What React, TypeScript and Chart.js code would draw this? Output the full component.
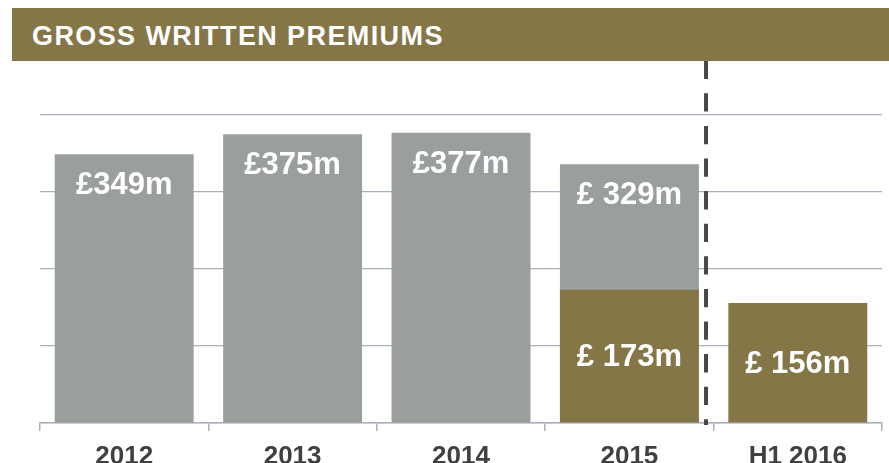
import React, { useEffect, useRef } from "react";
import { Chart, registerables } from "chart.js";

Chart.register(...registerables);

const categories = ["2012", "2013", "2014", "2015", "H1 2016"];
const fullYearValues = [349, 375, 377, 336, null];
const halfYearValues = [null, null, null, 173, 156];
const fullYearLabels = ["£349m", "£375m", "£377m", "£ 329m", ""];
const halfYearLabels = ["", "", "", "£ 173m", "£ 156m"];
const yMax = 400;
const yStep = 100;
const title = "GROSS WRITTEN PREMIUMS";

const GRAY = "#9a9f9c";
const OLIVE = "#857648";
const GRID = "#a9b0bc";
const FONT = "'Liberation Sans', Arial, sans-serif";

const labelPlugin = {
  id: "barLabels",
  afterDatasetsDraw(chart: any) {
    const ctx = chart.ctx;
    ctx.save();
    ctx.fillStyle = "#ffffff";
    ctx.font = `bold 31px ${FONT}`;
    ctx.textAlign = "center";
    ctx.textBaseline = "alphabetic";
    chart.data.datasets.forEach((ds: any, di: number) => {
      const meta = chart.getDatasetMeta(di);
      meta.data.forEach((el: any, i: number) => {
        const v = ds.data[i];
        if (v === null || v === undefined) return;
        const text = ds.labelTexts[i];
        if (!text) return;
        const y = ds.labelMode === "top" ? el.y + 40 : (el.y + el.base) / 2 + 10;
        ctx.fillText(text, el.x, y);
      });
    });
    ctx.restore();
  },
};

const dividerPlugin = {
  id: "divider",
  afterDraw(chart: any) {
    const x3 = chart.scales.x.getPixelForValue(3);
    const x4 = chart.scales.x.getPixelForValue(4);
    const x = x3 + (x4 - x3) * 0.455;
    const ctx = chart.ctx;
    ctx.save();
    ctx.strokeStyle = "#484848";
    ctx.lineWidth = 4;
    ctx.setLineDash([18.3, 14.3]);
    ctx.beginPath();
    ctx.moveTo(x, 60.7);
    ctx.lineTo(x, chart.chartArea.bottom + 2);
    ctx.stroke();
    ctx.restore();
  },
};

export default function App() {
  const canvasRef = useRef<HTMLCanvasElement | null>(null);

  useEffect(() => {
    if (!canvasRef.current) return;
    const chart = new Chart(canvasRef.current, {
      type: "bar",
      data: {
        labels: categories,
        datasets: [
          {
            label: "H1",
            data: halfYearValues,
            backgroundColor: OLIVE,
            grouped: false,
            order: 0,
            barPercentage: 0.825,
            categoryPercentage: 1,
            labelTexts: halfYearLabels,
            labelMode: "center",
          } as any,
          {
            label: "Full year",
            data: fullYearValues,
            backgroundColor: GRAY,
            grouped: false,
            order: 1,
            barPercentage: 0.825,
            categoryPercentage: 1,
            labelTexts: fullYearLabels,
            labelMode: "top",
          } as any,
        ],
      },
      options: {
        animation: false,
        responsive: false,
        maintainAspectRatio: false,
        layout: { padding: { left: 40, right: 7, top: 115, bottom: 0 } },
        plugins: {
          legend: { display: false },
          tooltip: { enabled: false },
          title: { display: false },
        },
        scales: {
          x: {
            grid: {
              display: true,
              drawOnChartArea: false,
              drawTicks: true,
              tickLength: 8,
              color: GRID,
              lineWidth: 1.5,
            },
            border: { display: true, color: GRID, width: 1.5 },
            ticks: {
              color: "#404040",
              font: { family: FONT, size: 26, weight: "bold" },
              padding: 10,
              maxRotation: 0,
              autoSkip: false,
            },
            afterFit(scale: any) {
              scale.height = 40;
            },
          },
          y: {
            min: 0,
            max: yMax,
            ticks: { display: false, stepSize: yStep },
            grid: { color: GRID, lineWidth: 1.2, drawTicks: false },
            border: { display: false },
          },
        },
      },
      plugins: [labelPlugin, dividerPlugin],
    });
    return () => chart.destroy();
  }, []);

  return (
    <div style={{ position: "fixed", left: 0, top: 0, width: 889, height: 463, background: "#fff", overflow: "hidden" }}>
      <canvas ref={canvasRef} width={889} height={463} style={{ position: "absolute", left: 0, top: 0, width: 889, height: 463 }} />
      <div
        style={{
          position: "absolute",
          left: 12,
          top: 8,
          width: 877,
          height: 53,
          background: OLIVE,
        }}
      >
        <span
          style={{
            position: "absolute",
            left: 20,
            top: 13,
            lineHeight: "30px",
            fontFamily: FONT,
            fontWeight: "bold",
            fontSize: 27,
            letterSpacing: 1.4,
            color: "#ffffff",
            whiteSpace: "nowrap",
          }}
        >
          {title}
        </span>
      </div>
    </div>
  );
}
